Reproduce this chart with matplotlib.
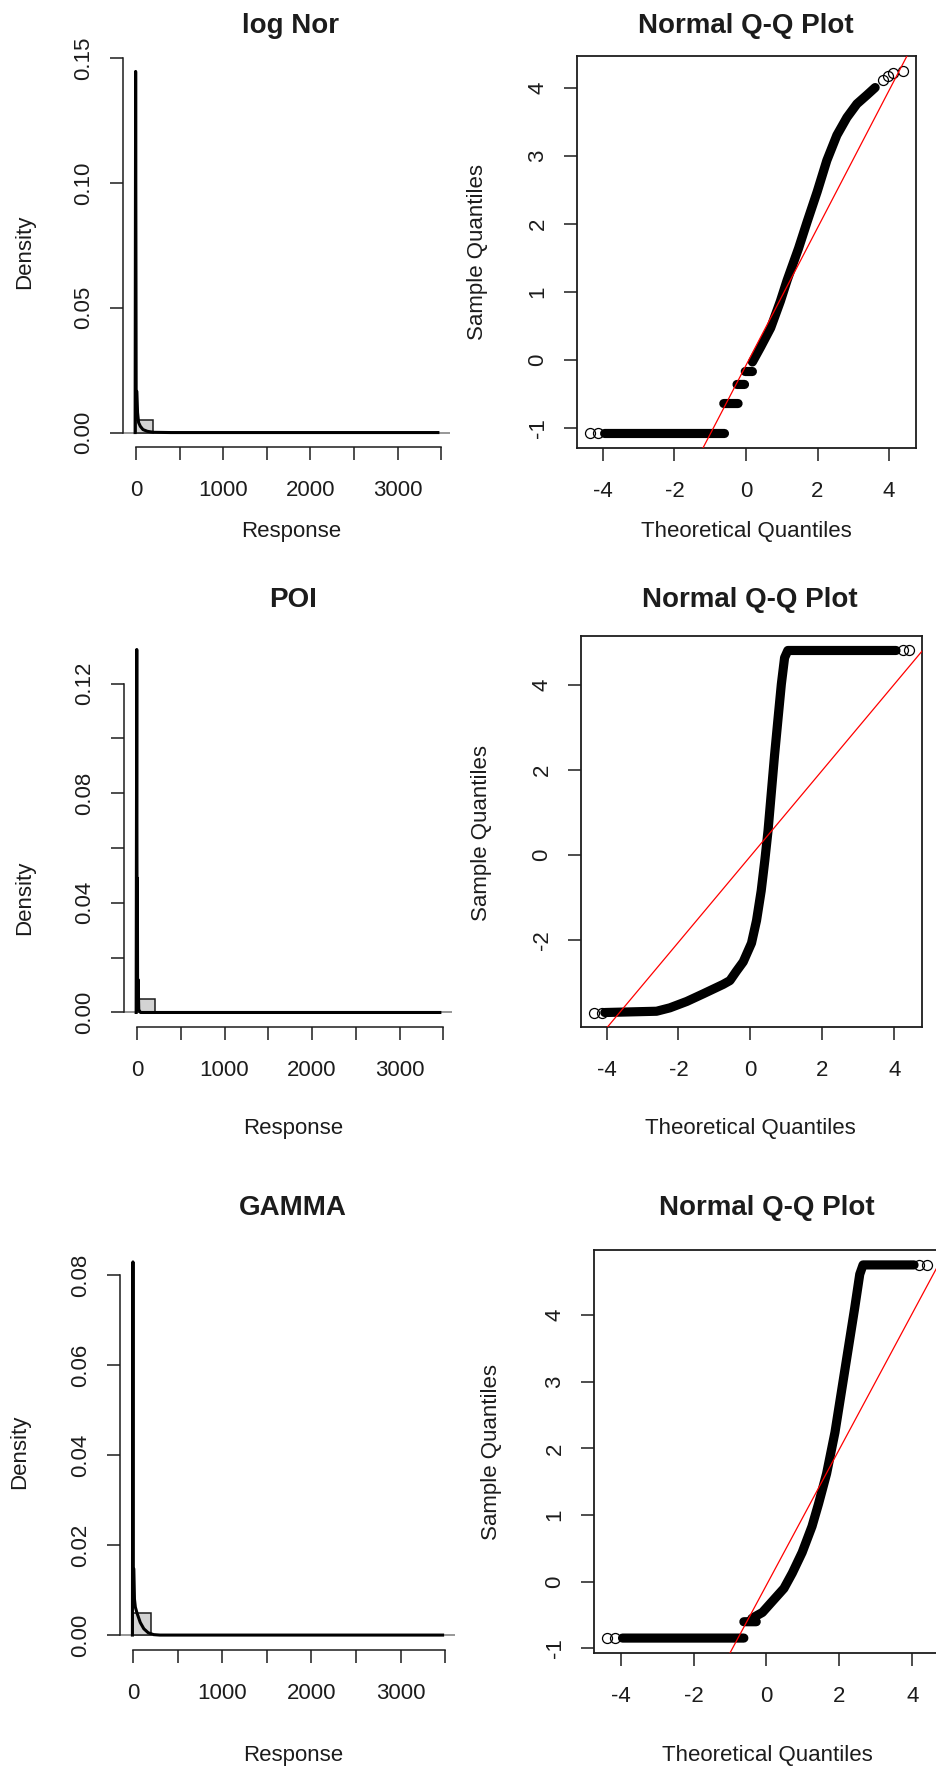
import matplotlib.pyplot as plt
import numpy as np

plt.rcParams['font.family'] = ['Liberation Sans', 'DejaVu Sans']

# ---- histogram + density panels ----
hist_left = [0]
hist_width = [200]
hist_dens = [0.005]

lognor_dens_x = [-10, -4, 2, 10, 18, 30, 50, 80, 130, 200, 400, 3460]
lognor_dens_y = [0.0, 0.1448, 0.0168, 0.0165, 0.008, 0.004, 0.0025, 0.0012, 0.0005, 0.0001, 0.0, 0.0]

poi_dens_x = [-10, -3, 1, 4, 7, 12, 20, 40, 3460]
poi_dens_y = [0.0, 0.1324, 0.002, 0.049, 0.002, 0.012, 0.001, 0.0, 0.0]

gamma_dens_x = [-8, -2, 2, 8, 15, 25, 45, 80, 120, 170, 230, 300, 3470]
gamma_dens_y = [0.0, 0.0829, 0.0149, 0.0147, 0.008, 0.0062, 0.0048, 0.0028, 0.0014, 0.0005, 0.0001, 0.0, 0.0]

hist_xticks = [0, 500, 1000, 1500, 2000, 2500, 3000, 3500]
hist_xlabels = ['0', '', '1000', '', '2000', '', '3000', '']

# ---- normal Q-Q panels: dense band (nan = gap) + lone points ----
lognor_qq_t = [-3.95, -0.6, np.nan, -0.62, -0.22, np.nan, -0.25, -0.04, np.nan, -0.02, 0.18, np.nan,
               0.18, 0.41, 0.69, 0.96, 1.15, 1.47, 1.71, 1.99, 2.26, 2.54, 2.82, 3.10, 3.38, 3.61]
lognor_qq_s = [-1.08, -1.08, np.nan, -0.64, -0.64, np.nan, -0.36, -0.36, np.nan, -0.17, -0.17, np.nan,
               -0.03, 0.19, 0.47, 0.86, 1.17, 1.64, 2.03, 2.47, 2.93, 3.30, 3.56, 3.76, 3.89, 4.0]
lognor_pts_t = [-4.37, -4.14, 3.84, 3.98, 4.12, 4.40]
lognor_pts_s = [-1.08, -1.08, 4.11, 4.17, 4.22, 4.25]
lognor_line = (-0.08, 1.01)  # intercept, slope

poi_qq_t = [-4.05, -2.61, -2.24, -1.77, -1.31, -0.76, -0.57, -0.39, -0.20, 0.03, 0.17, 0.30, 0.40,
            0.49, 0.58, 0.67, 0.77, 0.86, 0.95, 1.04, 4.05]
poi_qq_s = [-3.70, -3.67, -3.59, -3.44, -3.26, -3.04, -2.95, -2.73, -2.51, -2.07, -1.54, -0.84, -0.13,
            0.57, 1.45, 2.33, 3.22, 4.01, 4.63, 4.80, 4.80]
poi_pts_t = [-4.36, -4.13, 4.23, 4.42]
poi_pts_s = [-3.70, -3.70, 4.80, 4.80]
poi_line = (-0.03, 1.009)

gamma_qq_t = [-3.95, -0.62, np.nan, -0.62, -0.28, np.nan,
              -0.40, -0.11, 0.07, 0.25, 0.48, 0.71, 0.98, 1.25, 1.43, 1.65, 1.88, 2.06, 2.24, 2.42,
              2.56, 2.65, 4.05]
gamma_qq_s = [-0.845, -0.845, np.nan, -0.60, -0.60, np.nan,
              -0.55, -0.46, -0.35, -0.24, -0.10, 0.13, 0.44, 0.83, 1.17, 1.62, 2.24, 2.86, 3.48, 4.10,
              4.61, 4.75, 4.75]
gamma_pts_t = [-4.38, -4.15, 4.19, 4.41]
gamma_pts_s = [-0.845, -0.845, 4.75, 4.75]
gamma_line = (-0.05, 1.018)

W, H = 937, 1767
fig = plt.figure(figsize=(W / 100, H / 100), dpi=100)
INK = '#1c1c1c'
FS = 16


def add_ax(left, top, right, bottom):
    return fig.add_axes([left / W, 1 - bottom / H, (right - left) / W, (bottom - top) / H])


def put_text(x, y, s, **kw):
    fig.text(x / W, 1 - y / H, s, ha='center', va='center', color=INK, **kw)


def pad_range(vals):
    lo, hi = np.nanmin(vals), np.nanmax(vals)
    d = (hi - lo) * 0.04
    return lo - d, hi + d


def style_ticks(ax):
    ax.tick_params(direction='out', length=9.5, width=1.1, labelsize=FS, colors=INK)
    ax.tick_params(axis='x', pad=14)
    ax.tick_params(axis='y', pad=11)
    for lab in ax.get_yticklabels():
        lab.set_rotation(90)
        lab.set_va('center')


def hist_panel(box, dens_x, dens_y, yticks, ylabels, title, title_xy, xlab_xy, ylab_xy):
    ax = add_ax(*box)
    ax.bar(hist_left, hist_dens, width=hist_width, align='edge', color='#d3d3d3',
           edgecolor=INK, linewidth=1.1, zorder=2)
    ax.axhline(0, color='#8f8f8f', lw=1.3, zorder=1)
    ax.plot(dens_x, dens_y, color='black', lw=2.2, zorder=3)
    ax.set_xlim(pad_range(dens_x))
    ax.set_ylim(-0.04 * max(dens_y), 1.04 * max(dens_y))
    ax.set_xticks(hist_xticks)
    ax.set_xticklabels(hist_xlabels)
    ax.set_yticks(yticks)
    ax.set_yticklabels(ylabels)
    for side in ['top', 'right']:
        ax.spines[side].set_visible(False)
    for side in ['left', 'bottom']:
        ax.spines[side].set_linewidth(1.1)
        ax.spines[side].set_color(INK)
    ax.spines['left'].set_bounds(yticks[0], yticks[-1])
    ax.spines['bottom'].set_bounds(hist_xticks[0], hist_xticks[-1])
    style_ticks(ax)
    put_text(*title_xy, title, fontsize=20, fontweight='bold')
    put_text(*xlab_xy, 'Response', fontsize=FS)
    put_text(*ylab_xy, 'Density', fontsize=FS, rotation=90)
    return ax


def qq_panel(box, qt, qs, pt, ps, line, yticks, title_xy, xlab_xy, ylab_xy):
    ax = add_ax(*box)
    all_t = list(qt) + list(pt)
    all_s = list(qs) + list(ps)
    ax.plot(qt, qs, color='black', lw=6.6, solid_capstyle='round', zorder=2)
    ax.plot(pt, ps, 'o', mfc='none', mec='black', ms=7.2, mew=0.9, zorder=2)
    ax.axline((0, line[0]), slope=line[1], color='red', lw=0.9, zorder=3)
    ax.set_xlim(pad_range(all_t))
    ax.set_ylim(pad_range(all_s))
    ax.set_xticks([-4, -2, 0, 2, 4])
    ax.set_xticklabels(['-4', '-2', '0', '2', '4'])
    ax.set_yticks(yticks)
    ax.set_yticklabels([str(v) for v in yticks])
    for sp in ax.spines.values():
        sp.set_linewidth(1.3)
        sp.set_color(INK)
    style_ticks(ax)
    put_text(*title_xy, 'Normal Q-Q Plot', fontsize=20, fontweight='bold')
    put_text(*xlab_xy, 'Theoretical Quantiles', fontsize=FS)
    put_text(*ylab_xy, 'Sample Quantiles', fontsize=FS, rotation=90)
    return ax


hist_panel((123, 57, 450, 447), lognor_dens_x, lognor_dens_y,
           [0, 0.05, 0.10, 0.15], ['0.00', '0.05', '0.10', '0.15'],
           'log Nor', (291, 26), (291, 532), (25, 252))
qq_panel((577, 56, 916, 448), lognor_qq_t, lognor_qq_s, lognor_pts_t, lognor_pts_s, lognor_line,
         [-1, 0, 1, 2, 3, 4], (746, 26), (746, 532), (478, 252))

hist_panel((124, 635, 452, 1027), poi_dens_x, poi_dens_y,
           [0, 0.02, 0.04, 0.06, 0.08, 0.10, 0.12], ['0.00', '', '0.04', '', '0.08', '', '0.12'],
           'POI', (293, 600), (293, 1128), (25, 898))
qq_panel((581, 636, 922, 1027), poi_qq_t, poi_qq_s, poi_pts_t, poi_pts_s, poi_line,
         [-2, 0, 2, 4], (750, 600), (750, 1128), (482, 833))

hist_panel((120, 1247, 455, 1650), gamma_dens_x, gamma_dens_y,
           [0, 0.02, 0.04, 0.06, 0.08], ['0.00', '0.02', '0.04', '0.06', '0.08'],
           'GAMMA', (293, 1208), (293, 1755), (20, 1452))
qq_panel((594, 1250, 940, 1653), gamma_qq_t, gamma_qq_s, gamma_pts_t, gamma_pts_s, gamma_line,
         [-1, 0, 1, 2, 3, 4], (767, 1208), (767, 1755), (492, 1452))

fig.savefig('out.png', dpi=100)
